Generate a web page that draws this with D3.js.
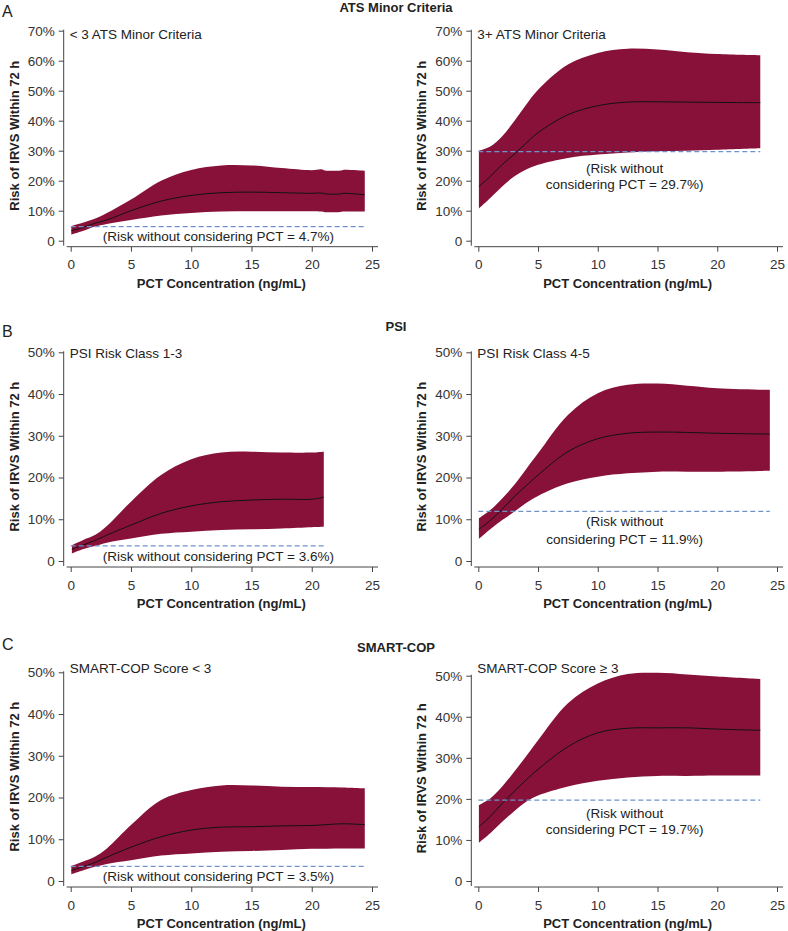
<!DOCTYPE html>
<html lang="en">
<head>
<meta charset="UTF-8">
<title>Risk of IRVS by PCT concentration</title>
<script src="https://d3js.org/d3.v7.min.js"></script>
<style>
    body { margin: 0; background: #fff; }
    svg text { font-family: "Liberation Sans", Arial, Helvetica, sans-serif; fill: #222; }
    .tick text { font-size: 13.5px; fill: #333; }
    .tick line, .axisline { stroke: #444; stroke-width: 1; }
    .band { fill: #88113a; }
    .est { fill: none; stroke: #111; stroke-width: 1; }
    .base { stroke: #6f93cf; stroke-width: 1.2; stroke-dasharray: 5,3; }
    .ttl { font-size: 13px; font-weight: bold; }
    .sub, .note { font-size: 13.5px; }
    .letter { font-size: 16px; }
</style>
</head>
<body>
<script>
    // row headings
    var rowLetters = ["A", "B", "C"];
    var rowTitles = ["ATS Minor Criteria", "PSI", "SMART-COP"];
    var panelNames = ["< 3 ATS Minor Criteria", "3+ ATS Minor Criteria",
        "PSI Risk Class 1-3", "PSI Risk Class 4-5",
        "SMART-COP Score < 3", "SMART-COP Score \u2265 3"];
    var xTicks = [0, 5, 10, 15, 20, 25];
    var yMaxes = [70, 70, 50, 50, 50, 50];
    var baseRisk = [4.7, 29.7, 3.6, 11.9, 3.5, 19.7];

    // A, < 3 ATS minor criteria
    var pctA1  = [0.05, 1, 2, 3, 5, 7.5, 10, 12.5, 15, 17.5, 20, 20.8, 21.1, 22.4, 22.6, 24.4];
    var riskA1 = [3.3, 4.4, 5.8, 6.9, 10.0, 13.2, 15.1, 16.0, 16.2, 16.0, 15.8, 15.9, 15.6, 15.6, 15.8, 15.3];
    var lowA1  = [2.0, 3.2, 4.7, 5.6, 6.9, 8.4, 9.2, 9.7, 9.8, 9.8, 9.8, 9.7, 9.5, 9.6, 9.7, 9.7];
    var highA1 = [4.9, 6.0, 7.3, 9.2, 13.7, 20.0, 23.6, 25.1, 25.1, 24.2, 23.5, 23.8, 23.4, 23.4, 23.6, 23.3];

    // A, 3+ ATS minor criteria
    var pctA2  = [0.05, 1, 2, 3, 4, 5, 7.5, 10, 12.5, 15, 17.5, 20, 23.6];
    var riskA2 = [18.1, 21.4, 25.4, 28.8, 32.5, 36.0, 42.0, 45.0, 46.2, 46.3, 46.2, 46.1, 46.0];
    var lowA2  = [10.7, 14.2, 18.1, 21.4, 23.7, 25.3, 27.6, 28.7, 29.4, 29.8, 30.0, 30.3, 30.8];
    var highA2 = [30.0, 31.4, 34.8, 39.8, 45.3, 50.3, 58.7, 62.6, 64.0, 63.7, 62.8, 62.2, 61.8];

    // B, PSI class 1-3
    var pctB1  = [0.1, 1, 2, 3, 5, 7.5, 10, 12.5, 15, 17.5, 20, 21];
    var riskB1 = [2.8, 3.8, 4.9, 6.2, 8.6, 11.4, 13.2, 14.2, 14.6, 14.8, 14.8, 15.3];
    var lowB1  = [1.8, 2.8, 3.6, 4.4, 5.4, 6.5, 7.0, 7.4, 7.6, 7.8, 8.1, 8.2];
    var highB1 = [3.8, 5.0, 6.2, 8.4, 14.2, 20.6, 24.4, 26.0, 26.2, 26.0, 26.0, 26.2];

    // B, PSI class 4-5
    var pctB2  = [0.05, 1, 2, 3, 4, 5, 7.5, 10, 12.5, 15, 17.5, 20, 24.4];
    var riskB2 = [7.6, 9.7, 12.4, 15.4, 18.0, 20.6, 26.2, 29.3, 30.6, 30.9, 30.8, 30.6, 30.4];
    var lowB2  = [5.3, 7.6, 9.8, 11.8, 13.9, 15.6, 18.6, 20.2, 21.0, 21.4, 21.4, 21.4, 21.6];
    var highB2 = [10.2, 12.2, 15.0, 18.2, 22.0, 25.8, 35.0, 40.2, 42.2, 42.5, 42.0, 41.4, 41.0];

    // C, SMART-COP < 3
    var pctC1  = [0.05, 1, 2, 3, 5, 7.5, 10, 12.5, 15, 17.5, 20, 22.5, 24.4];
    var riskC1 = [2.5, 3.4, 4.4, 5.7, 8.1, 10.6, 12.2, 12.9, 13.0, 13.2, 13.3, 13.7, 13.5];
    var lowC1  = [1.6, 2.5, 3.4, 4.1, 5.0, 6.1, 6.6, 7.0, 7.2, 7.4, 7.7, 7.8, 7.8];
    var highC1 = [3.6, 4.6, 5.8, 7.8, 13.4, 19.4, 21.8, 22.9, 22.9, 22.6, 22.5, 22.4, 22.2];

    // C, SMART-COP >= 3
    var pctC2  = [0.05, 1, 2, 3, 4, 5, 7.5, 10, 12.5, 15, 17.5, 20, 23.6];
    var riskC2 = [13.2, 15.7, 18.9, 21.8, 24.6, 27.2, 32.7, 36.1, 37.2, 37.3, 37.3, 37.0, 36.7];
    var lowC2  = [9.3, 11.6, 14.4, 17.0, 19.3, 20.8, 23.0, 24.4, 25.2, 25.6, 25.6, 25.7, 25.7];
    var highC2 = [18.5, 20.1, 23.0, 26.6, 30.4, 34.3, 43.3, 48.1, 50.4, 50.7, 50.3, 49.8, 49.2];

    var series = [
        [pctA1, riskA1, lowA1, highA1], [pctA2, riskA2, lowA2, highA2],
        [pctB1, riskB1, lowB1, highB1], [pctB2, riskB2, lowB2, highB2],
        [pctC1, riskC1, lowC1, highC1], [pctC2, riskC2, lowC2, highC2]
    ];

    // layout (pixels)
    var width = 788, height = 931;
    var colX = [[70.7, 372], [478.3, 777]];
    var rowY0 = [240.7, 561, 881];          // y of 0%
    var rowYTop = [[30.7, 30.7], [352.3, 352.3], [672.3, 675.7]];
    var letterY = [16.7, 336.7, 649.5];
    var titleY = [12, 331, 652];
    var subY = [39, 357.5, 672.5];
    // note lines: offsets below the dashed line
    var noteDy = [[14.5], [21, 37], [15], [15, 32.6], [14.8], [17.4, 34]];

    var svg = d3.select("body").append("svg")
        .attr("width", width)
        .attr("height", height);

    rowTitles.forEach(function(t, r) {
        svg.append("text").attr("class", "letter")
            .attr("x", 2).attr("y", letterY[r]).text(rowLetters[r]);
        svg.append("text").attr("class", "ttl")
            .attr("x", 396).attr("y", titleY[r])
            .attr("text-anchor", "middle").text(t);
    });

    series.forEach(function(s, i) {
        var r = Math.floor(i / 2), c = i % 2;
        var x = d3.scaleLinear().domain([0, 25]).range(colX[c]);
        var y = d3.scaleLinear().domain([0, yMaxes[i]]).range([rowY0[r], rowYTop[r][c]]);
        var g = svg.append("g");
        var axisX0 = x(0) - 7, axisY0 = y(0) + 6;

        var pts = s[0].map(function(p, k) {
            return { pct: p, risk: s[1][k], low: s[2][k], high: s[3][k] };
        });

        // smooth curve through the read-off points
        var area = d3.area()
            .x(function(d) { return x(d.pct); })
            .y0(function(d) { return y(d.low); })
            .y1(function(d) { return y(d.high); })
            .curve(d3.curveCatmullRom.alpha(0.5));
        var line = d3.line()
            .x(function(d) { return x(d.pct); })
            .y(function(d) { return y(d.risk); })
            .curve(d3.curveCatmullRom.alpha(0.5));

        g.append("path").datum(pts).attr("class", "band").attr("d", area);
        g.append("path").datum(pts).attr("class", "est").attr("d", line);

        var last = s[0][s[0].length - 1];
        g.append("line").attr("class", "base")
            .attr("x1", x(0)).attr("x2", x(last))
            .attr("y1", y(baseRisk[i])).attr("y2", y(baseRisk[i]));

        var lines = noteDy[i].length == 1
            ? ["(Risk without considering PCT = " + baseRisk[i] + "%)"]
            : ["(Risk without", "considering PCT = " + baseRisk[i] + "%)"];
        lines.forEach(function(l, k) {
            g.append("text").attr("class", "note")
                .attr("x", x(12.25)).attr("y", y(baseRisk[i]) + noteDy[i][k])
                .attr("text-anchor", "middle").text(l);
        });

        // axes
        var yTicks = d3.range(0, yMaxes[i] + 1, 10);
        var yAxis = d3.axisLeft(y).tickValues(yTicks)
            .tickFormat(function(d) { return d == 0 ? "0" : d + "%"; })
            .tickSize(5).tickPadding(4);
        var ga = g.append("g").attr("transform", "translate(" + axisX0 + ",0)").call(yAxis);
        ga.select(".domain").remove();
        g.append("line").attr("class", "axisline")
            .attr("x1", axisX0).attr("x2", axisX0)
            .attr("y1", y(yMaxes[i]) - 1).attr("y2", y(0) + 5);

        var xAxis = d3.axisBottom(x).tickValues(xTicks).tickSize(5).tickPadding(8);
        var gx = g.append("g").attr("transform", "translate(0," + axisY0 + ")").call(xAxis);
        gx.select(".domain").remove();
        g.append("line").attr("class", "axisline")
            .attr("x1", x(0) - 4).attr("x2", x(25) + 6)
            .attr("y1", axisY0).attr("y2", axisY0);

        g.append("text").attr("class", "ttl")
            .attr("x", x(12.5)).attr("y", axisY0 + 41)
            .attr("text-anchor", "middle").text("PCT Concentration (ng/mL)");
        g.append("text").attr("class", "ttl")
            .attr("transform", "translate(" + (axisX0 - 45) + "," + ((y(0) + y(yMaxes[i])) / 2) + ") rotate(-90)")
            .attr("text-anchor", "middle").text("Risk of IRVS Within 72 h");

        g.append("text").attr("class", "sub")
            .attr("x", x(0) - 1).attr("y", subY[r]).text(panelNames[i]);
    });
</script>
</body>
</html>
